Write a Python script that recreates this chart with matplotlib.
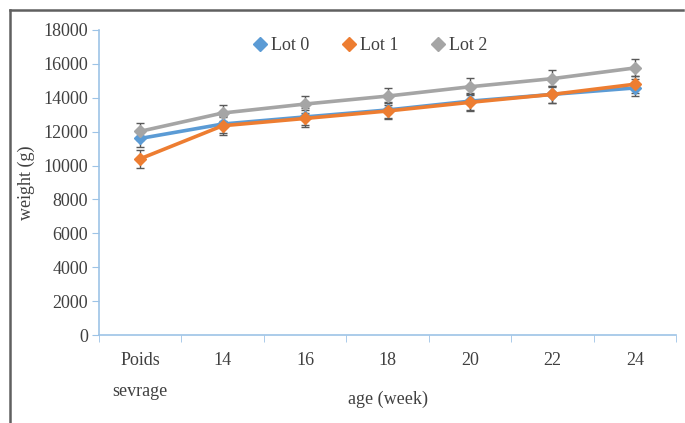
import matplotlib
matplotlib.use("Agg")
import matplotlib.pyplot as plt
from matplotlib.lines import Line2D

plt.rcParams['font.family'] = ['Liberation Serif', 'DejaVu Serif']

categories = ['Poids\nsevrage', '14', '16', '18', '20', '22', '24']
lot0 = [11600, 12450, 12870, 13280, 13800, 14200, 14580]
lot1 = [10400, 12350, 12780, 13220, 13730, 14200, 14800]
lot2 = [12020, 13100, 13630, 14100, 14650, 15130, 15760]
err0 = [500, 500, 500, 500, 500, 500, 500]
err1 = [520, 520, 500, 500, 500, 500, 500]
err2 = [500, 500, 500, 500, 500, 500, 500]
yticks = list(range(0, 18001, 2000))

W, H = 685, 423
fig = plt.figure(figsize=(W / 100, H / 100), dpi=100)
ax = fig.add_axes([99 / W, (H - 335) / H, (676 - 99) / W, (335 - 30) / H])

x = list(range(len(categories)))
series = [
    ('Lot 0', lot0, err0, '#5b9bd5'),
    ('Lot 1', lot1, err1, '#ed7d31'),
    ('Lot 2', lot2, err2, '#a5a5a5'),
]
handles = []
for name, vals, err, col in series:
    ax.errorbar(x, vals, yerr=err, color=col, lw=2.6, marker='D', ms=6.5,
                ecolor='#595959', elinewidth=1, capsize=3, capthick=1,
                zorder=3)
    handles.append(Line2D([], [], ls='', marker='D', ms=7, color=col, label=name))

ax.set_xlim(-0.5, len(categories) - 0.5)
ax.set_ylim(0, 18000)
ax.set_yticks(yticks)
ax.set_yticklabels([str(v) for v in yticks], fontsize=13, color='#404040')
ax.set_xticks(x)
ax.set_xticklabels(categories, fontsize=13, color='#404040', va='top',
                   linespacing=2.1)
ax.set_xticks([i - 0.5 for i in range(len(categories) + 1)], minor=True)
ax.tick_params(axis='x', which='major', length=0, pad=12)
ax.tick_params(axis='x', which='minor', length=5, color='#9dc3e6', direction='out')
ax.tick_params(axis='y', length=5, color='#9dc3e6', direction='out', pad=3)

for s in ['top', 'right']:
    ax.spines[s].set_visible(False)
for s in ['left', 'bottom']:
    ax.spines[s].set_color('#9dc3e6')
    ax.spines[s].set_linewidth(1.2)

ax.set_ylabel('weight (g)', fontsize=13, color='#404040', labelpad=6)
ax.set_xlabel('age (week)', fontsize=13, color='#404040', labelpad=-7)

ax.legend(handles=handles, loc='upper center', bbox_to_anchor=(0.47, 1.03), ncol=3,
          frameon=False, fontsize=13, handlelength=0.8,
          handletextpad=0.2, columnspacing=1.8, labelcolor='#404040')

# outer frame (left and top edges)
fig.add_artist(Line2D([10 / W, 10 / W], [0, 1 - 10 / H], transform=fig.transFigure,
                      color='#606060', lw=1.8))
fig.add_artist(Line2D([10 / W, 683 / W], [1 - 10 / H, 1 - 10 / H],
                      transform=fig.transFigure, color='#606060', lw=1.8))

fig.savefig('out.png', dpi=100)
